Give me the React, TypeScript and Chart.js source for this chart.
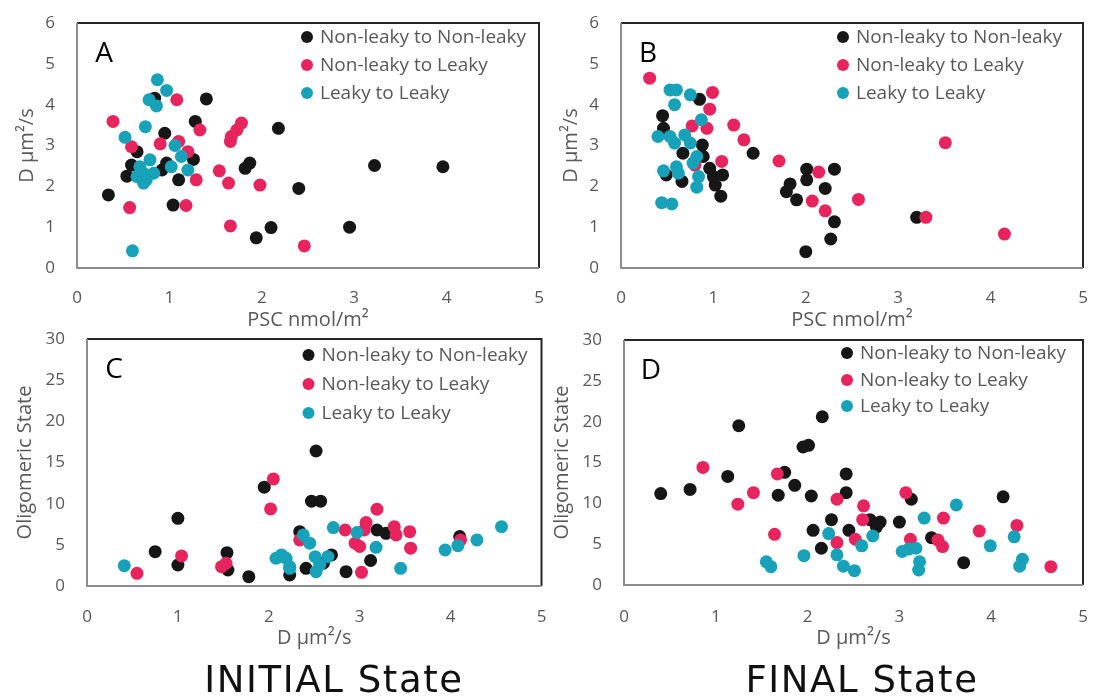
import React, { useEffect, useRef } from "react";
import { Chart, registerables } from "chart.js";

Chart.register(...registerables);

type Pt = [number, number];

// Series names and colours
const seriesNames = ["Non-leaky to Non-leaky", "Non-leaky to Leaky", "Leaky to Leaky"];
const seriesColors = ["#161616", "#E8245E", "#17A2BA"];

// Axis ticks
const xTicks = [0, 1, 2, 3, 4, 5];
const dTicks = [0, 1, 2, 3, 4, 5, 6];
const oligoTicks = [0, 5, 10, 15, 20, 25, 30];

// Panel A: initial PSC (x) vs initial D (y)
const aNonToNon: Pt[] = [
  [1.40, 4.14], [0.84, 4.16], [1.28, 3.59], [0.95, 3.30], [2.18, 3.42], [0.65, 2.85],
  [1.26, 2.66], [1.87, 2.57], [1.82, 2.44], [0.54, 2.25], [0.59, 2.52], [0.92, 2.40],
  [0.97, 2.57], [1.10, 2.16], [0.34, 1.79], [1.04, 1.54], [2.40, 1.95], [2.10, 0.99],
  [1.94, 0.74], [3.22, 2.51], [3.96, 2.48], [2.95, 1.00],
];
const aNonToLeaky: Pt[] = [
  [1.08, 4.12], [0.39, 3.59], [1.33, 3.38], [1.78, 3.55], [1.73, 3.38], [1.67, 3.22],
  [1.66, 3.10], [0.90, 3.04], [1.10, 3.10], [0.59, 2.97], [1.20, 2.85], [1.54, 2.38],
  [1.64, 2.08], [1.29, 2.16], [1.98, 2.03], [0.57, 1.48], [1.18, 1.53], [1.66, 1.03],
  [2.46, 0.54],
];
const aLeakyToLeaky: Pt[] = [
  [0.87, 4.61], [0.97, 4.35], [0.78, 4.12], [0.86, 3.97], [0.74, 3.46], [0.52, 3.20],
  [1.06, 3.00], [1.13, 2.73], [1.02, 2.48], [1.20, 2.40], [0.79, 2.65], [0.68, 2.48],
  [0.72, 2.32], [0.83, 2.32], [0.65, 2.24], [0.75, 2.16], [0.72, 2.08], [0.60, 0.42],
];

// Panel B: final PSC (x) vs final D (y)
const bNonToNon: Pt[] = [
  [0.85, 4.13], [0.45, 3.73], [0.46, 3.42], [0.88, 3.01], [0.67, 2.81], [0.89, 2.73],
  [1.43, 2.81], [0.49, 2.28], [0.66, 2.12], [0.96, 2.44], [1.10, 2.28], [1.02, 2.03],
  [1.08, 1.76], [1.00, 2.24], [2.01, 2.42], [2.01, 2.16], [2.31, 2.42], [1.83, 2.06],
  [1.79, 1.87], [1.90, 1.67], [2.21, 1.95], [2.31, 1.13], [2.27, 0.71], [2.00, 0.40],
  [3.20, 1.24],
];
const bNonToLeaky: Pt[] = [
  [0.31, 4.65], [0.99, 4.30], [0.96, 3.89], [0.77, 3.48], [0.93, 3.42], [1.22, 3.50],
  [1.33, 3.14], [1.71, 2.62], [1.09, 2.61], [0.80, 2.52], [2.14, 2.35], [2.07, 1.64],
  [2.21, 1.40], [2.57, 1.68], [3.51, 3.07], [3.30, 1.24], [4.15, 0.83],
];
const bLeakyToLeaky: Pt[] = [
  [0.53, 4.36], [0.60, 4.36], [0.75, 4.24], [0.58, 4.00], [0.87, 3.63], [0.40, 3.22],
  [0.53, 3.22], [0.69, 3.26], [0.58, 3.06], [0.75, 3.06], [0.60, 2.48], [0.46, 2.38],
  [0.62, 2.32], [0.82, 2.73], [0.78, 2.57], [0.84, 2.24], [0.82, 1.98], [0.44, 1.60],
  [0.55, 1.57],
];

// Panel C: initial D (x) vs initial oligomeric state (y)
const cNonToNon: Pt[] = [
  [0.75, 4.17], [1.00, 8.22], [1.00, 2.55], [1.54, 4.05], [1.55, 1.94], [1.78, 1.13],
  [1.95, 12.0], [2.23, 1.34], [2.52, 16.4], [2.47, 10.3], [2.57, 10.3], [3.19, 6.8],
  [3.29, 6.4], [3.12, 3.1], [2.85, 1.74], [4.10, 6.0], [2.34, 6.6], [2.41, 2.15],
  [2.60, 2.76], [2.69, 3.77],
];
const cNonToLeaky: Pt[] = [
  [0.55, 1.54], [1.04, 3.65], [1.48, 2.35], [1.53, 2.76], [2.05, 13.0], [2.02, 9.36],
  [3.19, 9.32], [3.07, 7.7], [3.05, 6.8], [3.38, 7.2], [3.40, 6.2], [3.55, 6.6],
  [3.56, 4.6], [2.84, 6.8], [2.95, 5.2], [3.00, 4.8], [3.02, 1.66], [4.11, 5.6],
  [2.34, 5.6],
];
const cLeakyToLeaky: Pt[] = [
  [0.41, 2.47], [2.08, 3.37], [2.14, 3.77], [2.19, 3.37], [2.23, 2.15], [2.71, 7.1],
  [2.97, 6.5], [3.18, 4.7], [3.45, 2.15], [3.94, 4.37], [4.08, 4.9], [4.29, 5.6],
  [4.56, 7.2], [2.38, 6.2], [2.45, 5.2], [2.51, 3.56], [2.56, 2.55], [2.52, 1.74],
  [2.65, 3.56], [2.16, 3.56], [2.23, 2.35],
];

// Panel D: final D (x) vs final oligomeric state (y)
const dNonToNon: Pt[] = [
  [0.40, 11.2], [0.72, 11.7], [1.25, 19.5], [1.13, 13.3], [1.68, 11.0], [1.75, 13.8],
  [1.86, 12.2], [1.95, 16.9], [2.01, 17.1], [2.16, 20.6], [2.04, 10.9], [2.06, 6.7],
  [2.15, 4.5], [2.26, 8.0], [2.42, 13.6], [2.42, 11.3], [2.45, 6.7], [2.68, 8.0],
  [2.79, 7.7], [2.75, 7.1], [3.00, 7.7], [3.13, 10.5], [3.35, 5.8], [3.70, 2.73],
  [4.13, 10.8],
];
const dNonToLeaky: Pt[] = [
  [0.86, 14.4], [1.24, 9.9], [1.41, 11.3], [1.67, 13.6], [1.64, 6.2], [2.32, 10.5],
  [2.32, 5.2], [2.61, 9.7], [2.60, 8.0], [2.52, 5.6], [3.07, 11.3], [3.12, 5.6],
  [3.42, 5.5], [3.47, 4.7], [3.48, 8.2], [3.87, 6.6], [4.28, 7.3], [4.65, 2.24],
];
const dLeakyToLeaky: Pt[] = [
  [1.55, 2.85], [1.60, 2.24], [1.96, 3.59], [2.23, 6.3], [2.32, 3.7], [2.39, 2.3],
  [2.51, 1.76], [2.59, 4.8], [2.71, 6.0], [3.27, 8.2], [3.03, 4.1], [3.10, 4.4],
  [3.18, 4.5], [3.22, 2.85], [3.21, 1.84], [3.62, 9.8], [3.99, 4.8], [4.25, 5.9],
  [4.34, 3.15], [4.31, 2.3],
];

const FONT = "'Open Sans', 'Noto Sans', sans-serif";
const GREY_TEXT = "#595959";

interface PanelSpec {
  letter: string;
  series: Pt[][];
  xTitle: string;
  yTitle: string;
  yTicks: number[];
  left: number;
  top: number;
  width: number;
  height: number;
  padTop: number;
  padRight: number;
  yAxisWidth: number;
  xAxisHeight: number;
  yTitlePad: number;
  xTitlePad: number;
  xTickPad: number;
  legendDx: number;
  legendRows: number[];
}

const panels: PanelSpec[] = [
  {
    letter: "A", series: [aNonToNon, aNonToLeaky, aLeakyToLeaky],
    xTitle: "PSC nmol/m²", yTitle: "D µm²/s", yTicks: dTicks,
    left: 0, top: 0, width: 548, height: 340, padTop: 23, padRight: 9,
    yAxisWidth: 77, xAxisHeight: 72, yTitlePad: 15, xTitlePad: 8, xTickPad: 20,
    legendDx: 232, legendRows: [14, 42, 70],
  },
  {
    letter: "B", series: [bNonToNon, bNonToLeaky, bLeakyToLeaky],
    xTitle: "PSC nmol/m²", yTitle: "D µm²/s", yTicks: dTicks,
    left: 548, top: 0, width: 545, height: 340, padTop: 23, padRight: 10,
    yAxisWidth: 73, xAxisHeight: 72, yTitlePad: 11, xTitlePad: 8, xTickPad: 20,
    legendDx: 240, legendRows: [14, 42, 70],
  },
  {
    letter: "C", series: [cNonToNon, cNonToLeaky, cLeakyToLeaky],
    xTitle: "D µm²/s", yTitle: "Oligomeric State", yTicks: oligoTicks,
    left: 0, top: 320, width: 548, height: 340, padTop: 19, padRight: 6,
    yAxisWidth: 87, xAxisHeight: 74, yTitlePad: 13, xTitlePad: 10, xTickPad: 21,
    legendDx: 233, legendRows: [16, 45, 74],
  },
  {
    letter: "D", series: [dNonToNon, dNonToLeaky, dLeakyToLeaky],
    xTitle: "D µm²/s", yTitle: "Oligomeric State", yTicks: oligoTicks,
    left: 548, top: 320, width: 545, height: 340, padTop: 20, padRight: 10,
    yAxisWidth: 76, xAxisHeight: 75, yTitlePad: 2, xTitlePad: 10, xTickPad: 22,
    legendDx: 236, legendRows: [13, 40, 66],
  },
];

// Frame around the plot area: grey left/bottom axes, dark top/right edges
const framePlugin = {
  id: "frame",
  beforeDatasetsDraw(chart: any) {
    const { ctx, chartArea: a } = chart;
    ctx.save();
    ctx.lineWidth = 2;
    ctx.strokeStyle = "#262626";
    ctx.beginPath();
    ctx.moveTo(a.left, a.top);
    ctx.lineTo(a.right, a.top);
    ctx.lineTo(a.right, a.bottom);
    ctx.stroke();
    ctx.strokeStyle = "#8c8c8c";
    ctx.beginPath();
    ctx.moveTo(a.left, a.top);
    ctx.lineTo(a.left, a.bottom);
    ctx.lineTo(a.right, a.bottom);
    ctx.stroke();
    ctx.restore();
  },
};

// Panel letter and the in-plot legend
const annotationPlugin = {
  id: "panelAnnotations",
  afterDraw(chart: any, _args: any, opts: any) {
    const { ctx, chartArea: a } = chart;
    ctx.save();
    ctx.fillStyle = "#000";
    ctx.font = `28px ${FONT}`;
    ctx.textAlign = "center";
    ctx.textBaseline = "middle";
    ctx.fillText(opts.letter, a.left + 27, a.top + 31);

    ctx.font = `19px ${FONT}`;
    ctx.textAlign = "left";
    const dotX = a.right - opts.legendDx;
    seriesNames.forEach((name, i) => {
      const y = a.top + opts.legendRows[i];
      ctx.fillStyle = seriesColors[i];
      ctx.beginPath();
      ctx.arc(dotX, y, 6, 0, Math.PI * 2);
      ctx.fill();
      ctx.fillStyle = GREY_TEXT;
      ctx.fillText(name, dotX + 13, y + 1);
    });
    ctx.restore();
  },
};

// Fixed axis box sizes, without the extra room Chart.js reserves for edge labels
const fixAxis = (size: { width?: number; height?: number }) => (s: any) => {
  if (size.width !== undefined) s.width = size.width;
  if (size.height !== undefined) s.height = size.height;
  s.paddingLeft = 0;
  s.paddingRight = 0;
  s.paddingTop = 0;
  s.paddingBottom = 0;
};

function Panel({ spec }: { spec: PanelSpec }) {
  const ref = useRef<HTMLCanvasElement>(null);

  useEffect(() => {
    if (!ref.current) return;
    const yMax = spec.yTicks[spec.yTicks.length - 1];
    const yStep = spec.yTicks[1] - spec.yTicks[0];
    const chart = new Chart(ref.current, {
      type: "scatter",
      data: {
        datasets: spec.series.map((pts, i) => ({
          label: seriesNames[i],
          data: pts.map(([x, y]) => ({ x, y })),
          backgroundColor: seriesColors[i],
          borderColor: seriesColors[i],
          borderWidth: 0,
          pointRadius: 6.5,
          pointHoverRadius: 6.5,
          order: 3 - i,
        })),
      },
      options: {
        responsive: false,
        animation: false,
        events: [],
        layout: { padding: { top: spec.padTop, right: spec.padRight, left: 0, bottom: 0 } },
        plugins: {
          legend: { display: false },
          tooltip: { enabled: false },
          panelAnnotations: {
            letter: spec.letter,
            legendDx: spec.legendDx,
            legendRows: spec.legendRows,
          },
        } as any,
        scales: {
          x: {
            type: "linear",
            min: xTicks[0],
            max: xTicks[xTicks.length - 1],
            afterBuildTicks: (s: any) => { s.ticks = xTicks.map((v) => ({ value: v })); },
            afterFit: fixAxis({ height: spec.xAxisHeight }),
            grid: { display: false, drawTicks: false },
            border: { display: false },
            ticks: {
              color: GREY_TEXT,
              font: { family: FONT, size: 17 },
              padding: spec.xTickPad,
              maxRotation: 0,
            },
            title: {
              display: true,
              text: spec.xTitle,
              color: GREY_TEXT,
              font: { family: FONT, size: 20 },
              padding: { top: 0, bottom: spec.xTitlePad },
            },
          },
          y: {
            type: "linear",
            min: 0,
            max: yMax,
            ticks: {
              stepSize: yStep,
              color: GREY_TEXT,
              font: { family: FONT, size: 17 },
              padding: 22,
            },
            afterFit: fixAxis({ width: spec.yAxisWidth }),
            grid: { display: false, drawTicks: false },
            border: { display: false },
            title: {
              display: true,
              text: spec.yTitle,
              color: GREY_TEXT,
              font: { family: FONT, size: 20 },
              padding: { top: spec.yTitlePad, bottom: 0 },
            },
          },
        },
      },
      plugins: [framePlugin, annotationPlugin],
    });
    return () => chart.destroy();
  }, [spec]);

  return (
    <canvas
      ref={ref}
      width={spec.width}
      height={spec.height}
      style={{
        position: "absolute",
        left: spec.left,
        top: spec.top,
        width: spec.width,
        height: spec.height,
      }}
    />
  );
}

const stateLabels = [
  { text: "INITIAL State", cx: 334 },
  { text: "FINAL State", cx: 862 },
];

export default function App() {
  return (
    <div
      style={{
        position: "absolute",
        left: 0,
        top: 0,
        width: 1093,
        height: 698,
        background: "#fff",
        overflow: "hidden",
      }}
    >
      {panels.map((p) => (
        <Panel key={p.letter} spec={p} />
      ))}
      {stateLabels.map((s) => (
        <div
          key={s.text}
          style={{
            position: "absolute",
            left: s.cx - 200,
            width: 400,
            top: 658,
            height: 44,
            lineHeight: "44px",
            textAlign: "center",
            fontFamily: "'DejaVu Sans', Verdana, sans-serif",
            fontSize: 37,
            letterSpacing: "1.6px",
            color: "#111",
            whiteSpace: "nowrap",
          }}
        >
          {s.text}
        </div>
      ))}
    </div>
  );
}
